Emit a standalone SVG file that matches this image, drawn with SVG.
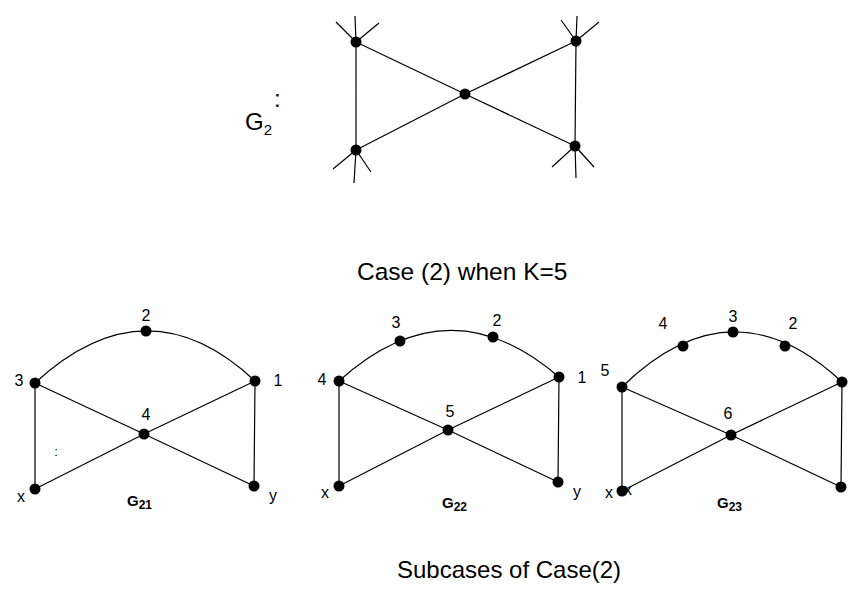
<svg xmlns="http://www.w3.org/2000/svg" width="857" height="596" viewBox="0 0 857 596">
<style>
.e{stroke:#000;stroke-width:1.2;fill:none}
.n{fill:#000}
.t{font-family:"Liberation Sans",Arial,sans-serif;fill:#000}
.l{font-size:16px}
.b{font-weight:bold}
</style>
<rect width="857" height="596" fill="#fff"/>
<g id="connectors">
<g id="g2-edges">
<path class="e" d="M356,42 L356,150 M576,41 L575,146 M356,42 L465,94 L575,146 M576,41 L465,94 L356,150"/>
<path class="e" d="M356,42 L355,16 M356,42 L336,22 M356,42 L379,23"/>
<path class="e" d="M576,41 L577,16 M576,41 L561,20 M576,41 L599,22"/>
<path class="e" d="M356,150 L354,183 M356,150 L333,169 M356,150 L371,172"/>
<path class="e" d="M575,146 L576,178 M575,146 L552,167 M575,146 L594,167"/>
</g>
<g id="g21-edges">
<path class="e" d="M35,383 Q147,280 255,381"/>
<path class="e" d="M35,383 L35,489 M255,381 L254,486 M35,383 L144,434 L254,486 M255,381 L144,434 L35,489"/>
</g>
<g id="g22-edges">
<path class="e" d="M339,381 Q449,282 559,377"/>
<path class="e" d="M339,381 L339,486 M559,377 L558,482 M339,381 L448,430 L558,482 M559,377 L448,430 L339,486"/>
</g>
<g id="g23-edges">
<path class="e" d="M622,387 Q732,279.5 842,382"/>
<path class="e" d="M622,387 L622,491 M842,382 L841,487 M622,387 L731,435 L841,487 M842,382 L731,435 L622,491"/>
</g>
</g>
<g id="g2">
<g id="g2-tl"><circle class="n" cx="356" cy="42" r="5.5"/></g>
<g id="g2-tr"><circle class="n" cx="576" cy="41" r="5.5"/></g>
<g id="g2-c"><circle class="n" cx="465" cy="94" r="5.5"/></g>
<g id="g2-bl"><circle class="n" cx="356" cy="150" r="5.5"/></g>
<g id="g2-br"><circle class="n" cx="575" cy="146" r="5.5"/></g>
<text class="t" x="245" y="130" font-size="24">G<tspan font-size="15" dy="5">2</tspan></text>
<text class="t" x="274" y="107" font-size="24">:</text>
</g>
<text id="caption1" class="t" x="357" y="280" font-size="24.5">Case (2) when K=5</text>
<g id="g21">
<g id="g21-2"><circle class="n" cx="146" cy="331" r="5.5"/><text class="t l" x="146" y="321" text-anchor="middle">2</text></g>
<g id="g21-3"><circle class="n" cx="35" cy="383" r="5.5"/><text class="t l" x="19" y="386" text-anchor="middle">3</text></g>
<g id="g21-1"><circle class="n" cx="255" cy="381" r="5.5"/><text class="t l" x="278" y="386" text-anchor="middle">1</text></g>
<g id="g21-4"><circle class="n" cx="144" cy="434" r="5.5"/><text class="t l" x="146" y="420" text-anchor="middle">4</text></g>
<g id="g21-x"><circle class="n" cx="35" cy="489" r="5.5"/><text class="t l" x="21" y="502" text-anchor="middle">x</text></g>
<g id="g21-y"><circle class="n" cx="254" cy="486" r="5.5"/><text class="t l" x="273" y="501" text-anchor="middle">y</text></g>
<text class="t" x="56" y="456" font-size="13" text-anchor="middle">:</text>
<text class="t b" x="127" y="506" font-size="15">G<tspan font-size="12" dy="3">21</tspan></text>
</g>
<g id="g22">
<g id="g22-3"><circle class="n" cx="400" cy="341" r="5.5"/><text class="t l" x="396" y="328" text-anchor="middle">3</text></g>
<g id="g22-2"><circle class="n" cx="493" cy="337" r="5.5"/><text class="t l" x="497" y="326" text-anchor="middle">2</text></g>
<g id="g22-4"><circle class="n" cx="339" cy="381" r="5.5"/><text class="t l" x="322" y="385" text-anchor="middle">4</text></g>
<g id="g22-1"><circle class="n" cx="559" cy="377" r="5.5"/><text class="t l" x="582" y="383" text-anchor="middle">1</text></g>
<g id="g22-5"><circle class="n" cx="448" cy="430" r="5.5"/><text class="t l" x="450" y="417" text-anchor="middle">5</text></g>
<g id="g22-x"><circle class="n" cx="339" cy="486" r="5.5"/><text class="t l" x="325" y="498" text-anchor="middle">x</text></g>
<g id="g22-y"><circle class="n" cx="558" cy="482" r="5.5"/><text class="t l" x="577" y="497" text-anchor="middle">y</text></g>
<text class="t b" x="442" y="508" font-size="15">G<tspan font-size="12" dy="3">22</tspan></text>
</g>
<g id="g23">
<g id="g23-4"><circle class="n" cx="683" cy="346" r="5.5"/><text class="t l" x="663" y="329" text-anchor="middle">4</text></g>
<g id="g23-3"><circle class="n" cx="733" cy="332" r="5.5"/><text class="t l" x="733" y="322" text-anchor="middle">3</text></g>
<g id="g23-2"><circle class="n" cx="785" cy="346" r="5.5"/><text class="t l" x="793" y="329" text-anchor="middle">2</text></g>
<g id="g23-5"><circle class="n" cx="622" cy="387" r="5.5"/><text class="t l" x="605" y="376" text-anchor="middle">5</text></g>
<g id="g23-1"><circle class="n" cx="842" cy="382" r="5.5"/></g>
<g id="g23-6"><circle class="n" cx="731" cy="435" r="5.5"/><text class="t l" x="728" y="419" text-anchor="middle">6</text></g>
<g id="g23-x"><text class="t l" x="628" y="495" text-anchor="middle">x</text><circle class="n" cx="622" cy="491" r="5.5"/><text class="t l" x="609" y="498" text-anchor="middle">x</text></g>
<g id="g23-y"><circle class="n" cx="841" cy="487" r="5.5"/><text class="t l" x="861" y="502" text-anchor="middle">y</text></g>
<text class="t b" x="717" y="508" font-size="15">G<tspan font-size="12" dy="3">23</tspan></text>
</g>
<text id="caption2" class="t" x="397" y="578" font-size="24">Subcases of Case(2)</text>
</svg>
